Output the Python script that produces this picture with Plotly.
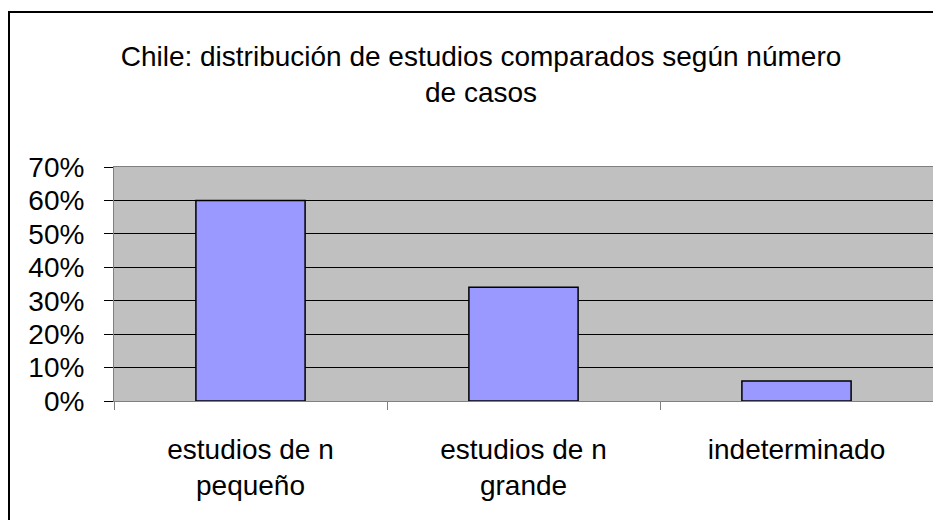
import plotly.graph_objects as go

categories = ["estudios de n<br>pequeño", "estudios de n<br>grande", "indeterminado"]
shares = [0.60, 0.34, 0.06]
y_ticks = [0, 0.1, 0.2, 0.3, 0.4, 0.5, 0.6, 0.7]

font_main = "Liberation Sans, Arial, sans-serif"

# the page body adds an 8px offset, so margins are shifted to compensate
fig = go.Figure()
fig.add_trace(
    go.Bar(
        x=categories,
        y=shares,
        marker=dict(color="#9999FF", line=dict(color="black", width=1.5)),
        width=0.4,
        showlegend=False,
    )
)

fig.update_layout(
    width=941,
    height=520,
    margin=dict(l=106, r=16, t=159, b=127),
    paper_bgcolor="white",
    plot_bgcolor="#C0C0C0",
    font=dict(family=font_main, size=28, color="black"),
    title=dict(
        text="Chile: distribución de estudios comparados según número<br>de casos",
        x=473 / 941,
        xref="container",
        xanchor="center",
        y=1 - 58 / 520,
        yref="container",
        yanchor="middle",
        font=dict(family=font_main, size=28, color="black"),
    ),
    bargap=0.6,
    shapes=[
        dict(
            type="rect",
            xref="paper",
            yref="paper",
            x0=-105 / 819,
            x1=1.2,
            y0=-0.8,
            y1=1 + 155 / 234,
            line=dict(color="black", width=2),
            fillcolor="rgba(0,0,0,0)",
            layer="below",
        )
    ],
)

fig.update_xaxes(
    showgrid=False,
    showline=True,
    linecolor="#808080",
    linewidth=1,
    mirror=True,
    ticks="outside",
    tickson="boundaries",
    ticklen=8,
    tickcolor="#808080",
    ticklabelstandoff=23,
    tickfont=dict(size=28),
)

fig.update_yaxes(
    range=[0, 0.7],
    tickvals=y_ticks,
    tickformat=".0%",
    showgrid=True,
    gridcolor="black",
    gridwidth=1,
    showline=True,
    linecolor="#808080",
    linewidth=1,
    mirror=True,
    ticks="outside",
    ticklen=9,
    tickcolor="black",
    ticklabelstandoff=14,
    tickfont=dict(size=28),
    zeroline=False,
)

fig.write_html("out.html")
